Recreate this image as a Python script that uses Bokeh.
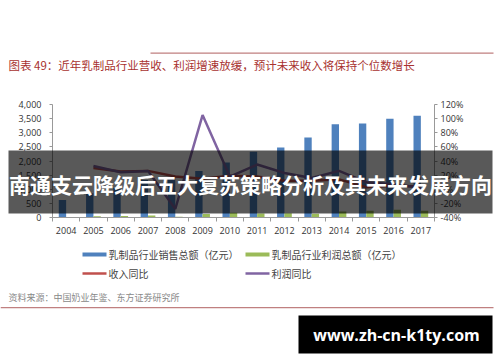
import numpy as np
from bokeh.plotting import figure
from bokeh.models import (Range1d, LinearAxis, FixedTicker, NumeralTickFormatter,
                          PrintfTickFormatter, Label, ColumnDataSource)
from bokeh.embed import file_html
from bokeh.resources import INLINE

# ---------------- data ----------------
years = ["2004", "2005", "2006", "2007", "2008", "2009", "2010",
         "2011", "2012", "2013", "2014", "2015", "2016", "2017"]
sales = [620, 860, 1040, 1330, 1430, 1650, 1950, 2330, 2480, 2830, 3300, 3330, 3500, 3600]
profit = [20, 40, 50, 70, 30, 120, 165, 145, 150, 135, 215, 240, 270, 240]
yoy_years = years[1:]
rev_yoy = [30, 25, 26, 18, 15, 19, 18, 12, 12, 14, 3, 5, 4]
prof_yoy = [33, 24, 26, -28, 105, 18, 35, 23, 16, 26, 10, 7, 2]

left_ticks = [0, 500, 1000, 1500, 2000, 2500, 3000, 3500, 4000]
right_ticks = [-40, -20, 0, 20, 40, 60, 80, 100, 120]

title_text = "图表 49：近年乳制品行业营收、利润增速放缓，预计未来收入将保持个位数增长"
source_text = "资料来源：中国奶业年鉴、东方证券研究所"
overlay_text = "南通支云降级后五大复苏策略分析及其未来发展方向"
mark_text = "www.zh-cn-k1ty.com"
names = ["乳制品行业销售总额（亿元）", "乳制品行业利润总额（亿元）", "收入同比", "利润同比"]

BLUE, GREEN, RED, PURPLE = "#4f81bd", "#9bbb59", "#c0504d", "#8064a2"
CJK = "Noto Sans CJK SC"
NUM = "Open Sans"

W, H = 500, 362

# ---------------- main chart ----------------
p = figure(width=W, height=H, output_backend="svg", toolbar_location=None,
           x_range=Range1d(0, len(years)), y_range=Range1d(0, 4000),
           min_border_left=52, min_border_right=66, min_border_top=104, min_border_bottom=145)
p.extra_y_ranges = {"pct": Range1d(-40, 120)}
p.outline_line_color = None
p.xgrid.visible = False
p.ygrid.visible = False
p.background_fill_color = "white"
p.border_fill_color = "white"

idx = np.arange(len(years)) + 0.5
bw = 0.27
src = ColumnDataSource(dict(xs=idx - bw / 2, xp=idx + bw / 2, sales=sales, profit=profit))
p.vbar(x="xs", top="sales", width=bw, bottom=0, source=src, fill_color=BLUE, line_color=None)
p.vbar(x="xp", top="profit", width=bw, bottom=0, source=src, fill_color=GREEN, line_color=None)

yidx = np.arange(1, len(years)) + 0.5
p.line(yidx, rev_yoy, y_range_name="pct", line_color=RED, line_width=2.5)
p.line(yidx, prof_yoy, y_range_name="pct", line_color=PURPLE, line_width=2.5)

xa = p.xaxis[0]
xa.ticker = FixedTicker(ticks=list(idx), minor_ticks=list(range(len(years) + 1)))
xa.major_label_overrides = {float(v): y for v, y in zip(idx, years)}
xa.major_tick_line_color = None
xa.major_tick_out = 0
xa.major_tick_in = 0
xa.minor_tick_out = 4
xa.minor_tick_in = 0
xa.minor_tick_line_color = "#999999"
xa.axis_line_color = "#999999"
xa.major_label_standoff = 5
xa.major_label_text_font = NUM
xa.major_label_text_font_size = "9px"
xa.major_label_text_color = "#333333"

ya = p.yaxis[0]
ya.ticker = FixedTicker(ticks=left_ticks, minor_ticks=[])
ya.formatter = NumeralTickFormatter(format="0,0")
ya.axis_line_color = "#999999"
ya.major_tick_line_color = "#999999"
ya.major_tick_out = 3
ya.major_tick_in = 0
ya.minor_tick_line_color = None
ya.major_label_standoff = 8
ya.major_label_text_font = NUM
ya.major_label_text_font_size = "9px"
ya.major_label_text_color = "#333333"

ra = LinearAxis(y_range_name="pct", ticker=FixedTicker(ticks=right_ticks, minor_ticks=[]),
                formatter=PrintfTickFormatter(format="%d%%"))
ra.axis_line_color = "#999999"
ra.major_tick_line_color = "#999999"
ra.major_tick_out = 3
ra.major_tick_in = 0
ra.minor_tick_line_color = None
ra.major_label_standoff = 3
ra.major_label_text_font = NUM
ra.major_label_text_font_size = "9px"
ra.major_label_text_color = "#333333"
p.add_layout(ra, "right")

# ---------------- page decorations (transparent layer in page pixels) ----------------
ov = figure(width=W, height=H, output_backend="svg", toolbar_location=None,
            x_range=Range1d(0, W), y_range=Range1d(H, 0),
            x_axis_type=None, y_axis_type=None,
            min_border_left=0, min_border_right=0, min_border_top=0, min_border_bottom=0,
            styles={"position": "absolute", "top": "0px", "left": "0px"})
ov.outline_line_color = None
ov.background_fill_alpha = 0
ov.border_fill_alpha = 0

def lab(x, y, text, size, color, font=CJK, align="left", bold=False):
    ov.add_layout(Label(x=x, y=y, text=text, text_font=font, text_font_size=size,
                        text_color=color, text_baseline="middle", text_align=align,
                        text_font_style="bold" if bold else "normal"))

# title with rule above
ov.quad(left=[150], right=[493], top=[52], bottom=[53.3], fill_color="#b06060", fill_alpha=0.8, line_color=None)
lab(8, 64, title_text, "11.5px", "#a8322f")

# legend
sw_x = [82, 245]
rows = [254, 273]
ov.quad(left=[sw_x[0]], right=[sw_x[0] + 24], top=[rows[0] - 2], bottom=[rows[0] + 2], fill_color=BLUE, line_color=None)
ov.quad(left=[sw_x[1]], right=[sw_x[1] + 24], top=[rows[0] - 2], bottom=[rows[0] + 2], fill_color=GREEN, line_color=None)
ov.segment(x0=[sw_x[0]], x1=[sw_x[0] + 24], y0=[rows[1]], y1=[rows[1]], line_color=RED, line_width=2.5)
ov.segment(x0=[sw_x[1]], x1=[sw_x[1] + 24], y0=[rows[1]], y1=[rows[1]], line_color=PURPLE, line_width=2.5)
lab(sw_x[0] + 26, rows[0], names[0], "10px", "#444444")
lab(sw_x[1] + 26, rows[0], names[1], "10px", "#444444")
lab(sw_x[0] + 26, rows[1], names[2], "10px", "#444444")
lab(sw_x[1] + 26, rows[1], names[3], "10px", "#444444")

# source and bottom rule
lab(8, 297, source_text, "9px", "#888888")
ov.quad(left=[0], right=[493], top=[306.5], bottom=[307.7], fill_color="#b06060", fill_alpha=0.8, line_color=None)

# dark band with headline
ov.quad(left=[8], right=[492], top=[150], bottom=[213], fill_color="black", fill_alpha=0.65, line_color=None)
lab(250, 183, overlay_text, "21px", "white", align="center", bold=True)

# watermark box
ov.quad(left=[298], right=[492], top=[315], bottom=[353], fill_color="black", line_color=None)
lab(396, 334, mark_text, "16px", "white", font=NUM, align="center", bold=True)

open("out.html", "w").write(file_html([p, ov], INLINE))
